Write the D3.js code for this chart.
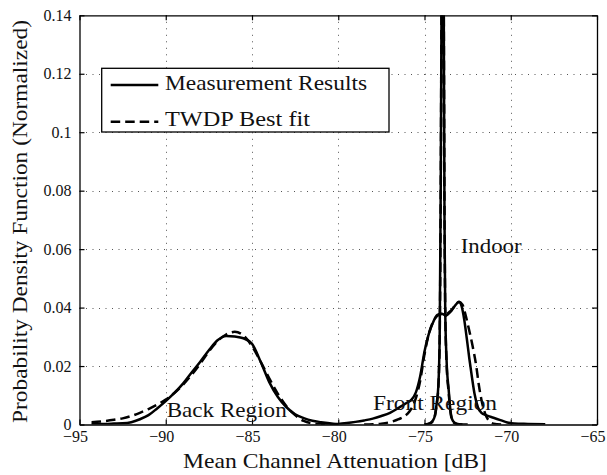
<!DOCTYPE html>
<html><head><meta charset="utf-8">
<script src="https://cdn.jsdelivr.net/npm/d3@7"></script>
<style>
body{margin:0;background:#fff}
svg{display:block}
text{font-family:"Liberation Serif","Times New Roman",serif;fill:#111}
</style>
</head><body>
<svg id="chart" width="607" height="475"></svg>
<script>
// ---- data ----
const xTicks = [-95, -90, -85, -80, -75, -70, -65];
const xTickLabels = ["\u221295", "\u221290", "\u221285", "\u221280", "\u221275", "\u221270", "\u221265"];
const yTicks = [0, 0.02, 0.04, 0.06, 0.08, 0.1, 0.12, 0.14];
const yTickLabels = ["0", "0.02", "0.04", "0.06", "0.08", "0.1", "0.12", "0.14"];
const legendLabels = ["Measurement Results", "TWDP Best fit"];
const regionLabels = ["Back Region", "Front Region", "Indoor"];

const backX    = [-94.3, -93.5, -93, -92.5, -92, -91.5, -91, -90.5, -90, -89.5, -89, -88.5, -88, -87.5, -87, -86.5, -86, -85.5, -85, -84.5, -84, -83.5, -83, -82.5, -82, -81.5, -81, -80.5, -80];
const backMeas = [0.0002, 0.0002, 0.0003, 0.0004, 0.0008, 0.0018, 0.0032, 0.0055, 0.0080, 0.0108, 0.0140, 0.0178, 0.0215, 0.0254, 0.0288, 0.0303, 0.0301, 0.0295, 0.0276, 0.0215, 0.0145, 0.0094, 0.0059, 0.0035, 0.0022, 0.0013, 0.0008, 0.0004, 0.0001];
const backFit  = [0.0008, 0.0012, 0.0016, 0.0021, 0.0029, 0.0040, 0.0053, 0.0068, 0.0085, 0.0108, 0.0136, 0.0170, 0.0208, 0.0250, 0.0285, 0.0308, 0.0317, 0.0305, 0.0268, 0.0215, 0.0158, 0.0105, 0.0062, 0.0032, 0.0012, 0.0004, 0.0001, 0.0000, 0.0000];

const frontX    = [-81, -80, -79.5, -79, -78.5, -78, -77.5, -77, -76.5, -76, -75.75, -75.5, -75.25, -75, -74.75, -74.5, -74.25, -74, -73.75, -73.5, -73.25, -73.0, -72.85, -72.7, -72.55, -72.4, -72.25, -72.1, -71.9, -71.7, -71.4, -71.0, -70.6, -70.2, -69.8, -69, -68];
const frontMeas = [0.0000, 0.0002, 0.0005, 0.0009, 0.0014, 0.0020, 0.0029, 0.0040, 0.0057, 0.0075, 0.0085, 0.0110, 0.0165, 0.0250, 0.0310, 0.0350, 0.0375, 0.0379, 0.0373, 0.0385, 0.0405, 0.0419, 0.0405, 0.0360, 0.0295, 0.0225, 0.0162, 0.0105, 0.0058, 0.0040, 0.0031, 0.0023, 0.0015, 0.0007, 0.0003, 0.0002, 0.0001];
const frontFitX = [-78.5, -78, -77.5, -77, -76.5, -76, -75.75, -75.5, -75.25, -75, -74.75, -74.5, -74.25, -74, -73.75, -73.5, -73.25, -73.0, -72.8, -72.6, -72.4, -72.2, -72.0, -71.85, -71.7, -71.5, -71.3, -71.0, -70.5];
const frontFit  = [0.0000, 0.0001, 0.0003, 0.0008, 0.0018, 0.0036, 0.0055, 0.0090, 0.0150, 0.0240, 0.0310, 0.0352, 0.0372, 0.0378, 0.0378, 0.0388, 0.0405, 0.0420, 0.0410, 0.0370, 0.0320, 0.0265, 0.0200, 0.0135, 0.0085, 0.0040, 0.0015, 0.0003, 0.0000];

const indoorX    = [-75.0, -74.8, -74.6, -74.5, -74.4, -74.3, -74.2, -74.12, -74.06, -74.0, -73.95, -73.9, -73.84, -73.8, -73.72, -73.6, -73.5, -73.4, -73.25, -73.0, -72.5];
const indoorMeas = [0.0000, 0.0002, 0.0008, 0.0015, 0.0030, 0.0070, 0.0130, 0.0300, 0.0800, 0.1600, 0.2000, 0.1700, 0.0700, 0.0400, 0.0220, 0.0120, 0.0050, 0.0018, 0.0006, 0.0001, 0.0000];
const indoorFit  = [0.0000, 0.0001, 0.0006, 0.0013, 0.0028, 0.0065, 0.0125, 0.0290, 0.0780, 0.1600, 0.2000, 0.1700, 0.0720, 0.0400, 0.0210, 0.0110, 0.0045, 0.0015, 0.0004, 0.0000, 0.0000];

// ---- chart ----
const svg = d3.select('#chart');
const L = 79.5, R = 597, T = 15.3, B = 424.5;
const x = d3.scaleLinear().domain([-95, -65]).range([L, R]);
const y = d3.scaleLinear().domain([0, 0.14]).range([B, T]);

svg.append('defs').append('clipPath').attr('id', 'plotclip')
  .append('rect').attr('x', L).attr('y', T).attr('width', R - L).attr('height', B - T);

// grid
const grid = svg.append('g').attr('stroke', '#555').attr('stroke-width', 1).attr('stroke-dasharray', '1,5.5');
grid.selectAll('line.vx').data(xTicks.slice(1, -1)).join('line')
  .attr('x1', d => Math.round(x(d)) + 0.5).attr('x2', d => Math.round(x(d)) + 0.5)
  .attr('y1', T).attr('y2', B);
grid.selectAll('line.hy').data(yTicks.slice(1, -1)).join('line')
  .attr('y1', d => Math.round(y(d)) + 0.5).attr('y2', d => Math.round(y(d)) + 0.5)
  .attr('x1', L).attr('x2', R);

// curves
const line = d3.line().x(d => x(d[0])).y(d => y(d[1])).curve(d3.curveMonotoneX);
const series = [
  { xs: backX, ys: backFit, dash: true },
  { xs: frontFitX, ys: frontFit, dash: true },
  { xs: indoorX, ys: indoorFit, dash: true },
  { xs: backX, ys: backMeas, dash: false },
  { xs: frontX, ys: frontMeas, dash: false },
  { xs: indoorX, ys: indoorMeas, dash: false }
];
const plot = svg.append('g').attr('clip-path', 'url(#plotclip)');
plot.selectAll('path').data(series).join('path')
  .attr('d', s => line(s.xs.map((v, i) => [v, s.ys[i]])))
  .attr('fill', 'none').attr('stroke', '#000').attr('stroke-width', 2.5)
  .attr('stroke-linejoin', 'round')
  .attr('stroke-dasharray', s => s.dash ? '9.5,5' : null);

// axes
const fmtX = d => xTickLabels[xTicks.indexOf(d)];
const fmtY = d => yTickLabels[yTicks.indexOf(d)];
const axB = svg.append('g').attr('transform', `translate(0,${B})`)
  .call(d3.axisBottom(x).tickValues(xTicks).tickFormat(fmtX).tickSize(-5).tickSizeOuter(0).tickPadding(6));
axB.selectAll('text').attr('text-anchor', 'end').attr('dx', 8).style('font-size', '16px');
const axT = svg.append('g').attr('transform', `translate(0,${T})`)
  .call(d3.axisTop(x).tickValues(xTicks).tickFormat('').tickSize(-5).tickSizeOuter(0));
const axLft = svg.append('g').attr('transform', `translate(${L},0)`)
  .call(d3.axisLeft(y).tickValues(yTicks).tickFormat(fmtY).tickSize(-5).tickSizeOuter(0).tickPadding(8));
axLft.selectAll('text').style('font-size', '16px');
const axRgt = svg.append('g').attr('transform', `translate(${R},0)`)
  .call(d3.axisRight(y).tickValues(yTicks).tickFormat('').tickSize(-5).tickSizeOuter(0));
[axB, axT, axLft, axRgt].forEach(a => {
  a.selectAll('.tick line').attr('stroke', '#000').attr('stroke-width', 1.2);
  a.select('.domain').attr('stroke', '#000').attr('stroke-width', 1.3);
  a.selectAll('text').attr('fill', '#111').style('font-family', '"Liberation Serif", serif');
});

// axis labels
svg.append('text').attr('x', 335).attr('y', 468).attr('text-anchor', 'middle')
  .style('font-size', '21px').attr('textLength', 304).attr('lengthAdjust', 'spacingAndGlyphs')
  .text('Mean Channel Attenuation [dB]');
svg.append('text').attr('transform', 'translate(27,221.5) rotate(-90)').attr('text-anchor', 'middle')
  .style('font-size', '21px').attr('textLength', 403).attr('lengthAdjust', 'spacingAndGlyphs')
  .text('Probability Density Function (Normalized)');

// region annotations
const ann = [
  { t: regionLabels[0], x: 166.7, y: 416.5, w: 120 },
  { t: regionLabels[1], x: 373, y: 410, w: 124 },
  { t: regionLabels[2], x: 460.7, y: 253.3, w: 61 }
];
svg.selectAll('text.ann').data(ann).join('text').attr('class', 'ann')
  .attr('x', d => d.x).attr('y', d => d.y).style('font-size', '21px')
  .attr('textLength', d => d.w).attr('lengthAdjust', 'spacingAndGlyphs')
  .text(d => d.t);

// legend
const lg = svg.append('g');
lg.append('rect').attr('x', 101.7).attr('y', 68.3).attr('width', 287.3).attr('height', 63.7)
  .attr('fill', '#fff').attr('stroke', '#000').attr('stroke-width', 1.3);
const legItems = [
  { t: legendLabels[0], ly: 85, ty: 89.5, w: 202, dash: false },
  { t: legendLabels[1], ly: 121.7, ty: 125.5, w: 145, dash: true }
];
legItems.forEach(d => {
  lg.append('line').attr('x1', 110.7).attr('x2', 158.3).attr('y1', d.ly).attr('y2', d.ly)
    .attr('stroke', '#000').attr('stroke-width', 2.5).attr('stroke-dasharray', d.dash ? '9.5,5' : null);
  lg.append('text').attr('x', 165).attr('y', d.ty).style('font-size', '21px')
    .attr('textLength', d.w).attr('lengthAdjust', 'spacingAndGlyphs').text(d.t);
});
</script>
</body></html>
